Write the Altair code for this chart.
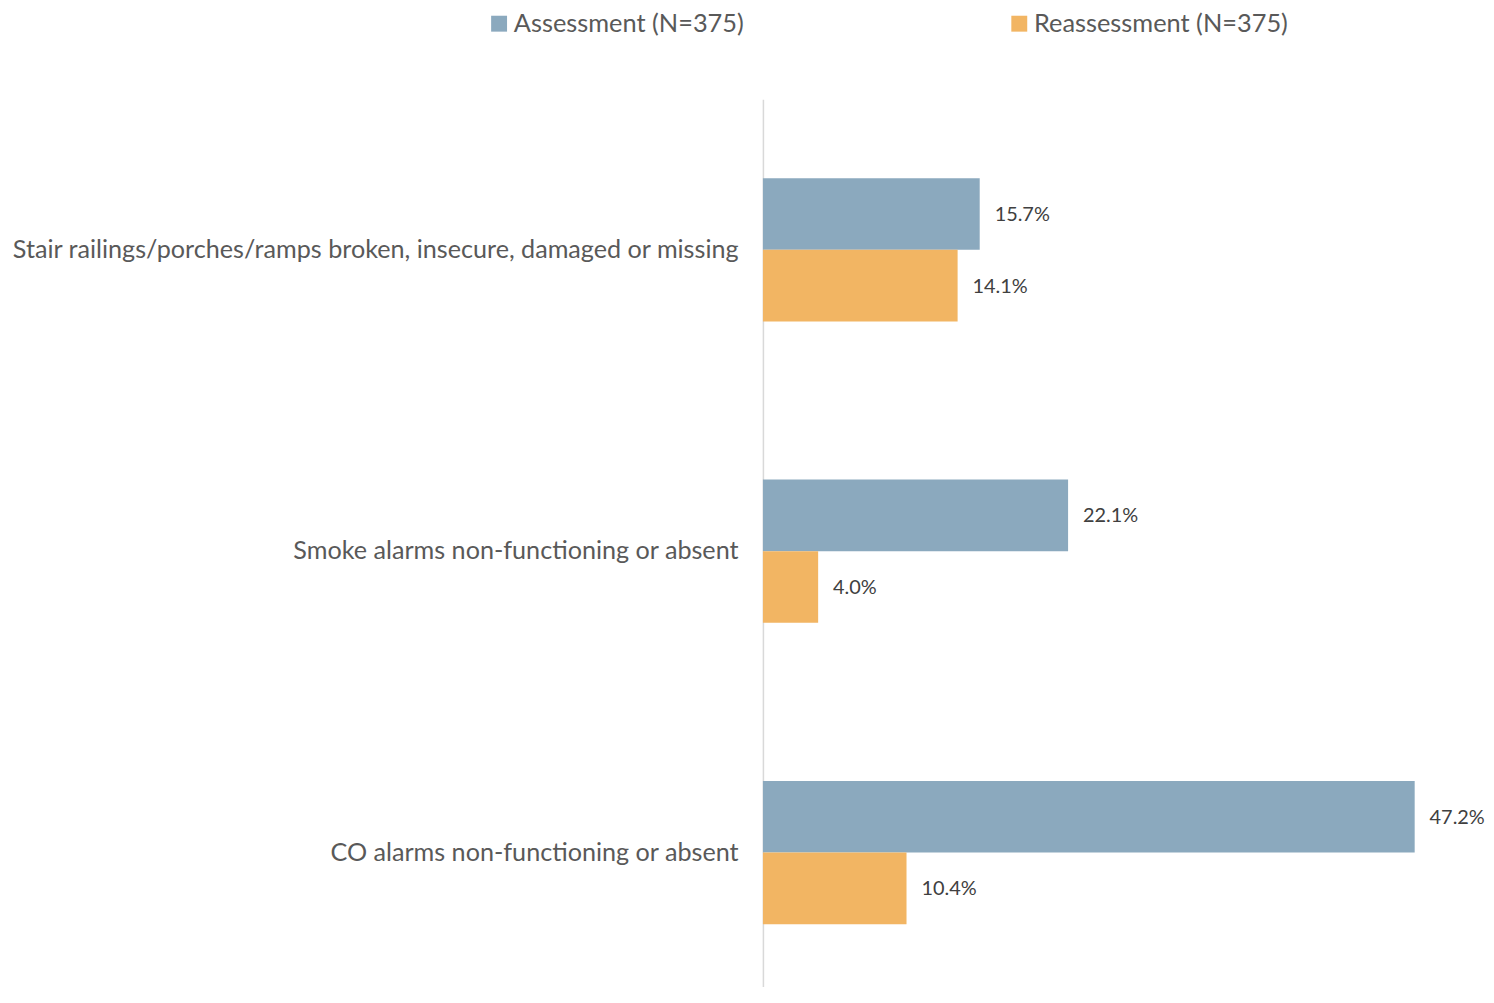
import altair as alt
import pandas as pd

categories = [
    "Stair railings/porches/ramps broken, insecure, damaged or missing",
    "Smoke alarms non-functioning or absent",
    "CO alarms non-functioning or absent",
]
series = ["Assessment (N=375)", "Reassessment (N=375)"]
assessment = [15.7, 22.1, 47.2]
reassessment = [14.1, 4.0, 10.4]
colors = ["#8BA9BE", "#F2B563"]

rows = []
for c, a, r in zip(categories, assessment, reassessment):
    rows.append({"category": c, "series": series[0], "value": a})
    rows.append({"category": c, "series": series[1], "value": r})
df = pd.DataFrame(rows)
df["label"] = df["value"].map(lambda v: f"{v:.1f}%")

FONT = "Lato"

y_enc = alt.Y(
    "category:N",
    sort=categories,
    scale=alt.Scale(range=[0, 909], paddingInner=0.525, paddingOuter=0.2625),
    axis=alt.Axis(
        title=None,
        ticks=False,
        domainColor="#D9D9D9",
        domainWidth=1.5,
        labelFont=FONT,
        labelFontSize=25.3,
        labelColor="#595959",
        labelPadding=25,
        labelLimit=0,
    ),
)
yoff = alt.YOffset("series:N", sort=series)
x_enc = alt.X("value:Q", scale=alt.Scale(domain=[0, 49.7]), axis=None)

bars = alt.Chart(df).mark_bar(size=72).encode(
    y=y_enc,
    yOffset=yoff,
    x=x_enc,
    color=alt.Color(
        "series:N",
        sort=series,
        scale=alt.Scale(domain=series, range=colors),
        legend=alt.Legend(
            title=None,
            orient="none",
            direction="horizontal",
            legendX=-278,
            legendY=-89,
            symbolType="square",
            symbolSize=256,
            symbolStrokeWidth=0,
            labelFont=FONT,
            labelFontSize=25.5,
            labelColor="#595959",
            labelOffset=2,
            labelLimit=0,
            columnPadding=264,
            padding=0,
        ),
    ),
)

labels = alt.Chart(df).mark_text(
    align="left", baseline="middle", dx=15, dy=1, font=FONT, fontSize=20, color="#404040"
).encode(
    y=alt.Y("category:N", sort=categories),
    yOffset=yoff,
    x=x_enc,
    text="label:N",
)

chart = (
    alt.layer(bars, labels)
    .properties(
        width=690,
        height=890,
        autosize=alt.AutoSizeParams(type="none"),
        padding={"left": 759, "top": 89, "right": 37, "bottom": 0},
    )
    .configure_view(stroke=None)
)

chart.save("out.html", embed_options={"renderer": "svg", "actions": False})
